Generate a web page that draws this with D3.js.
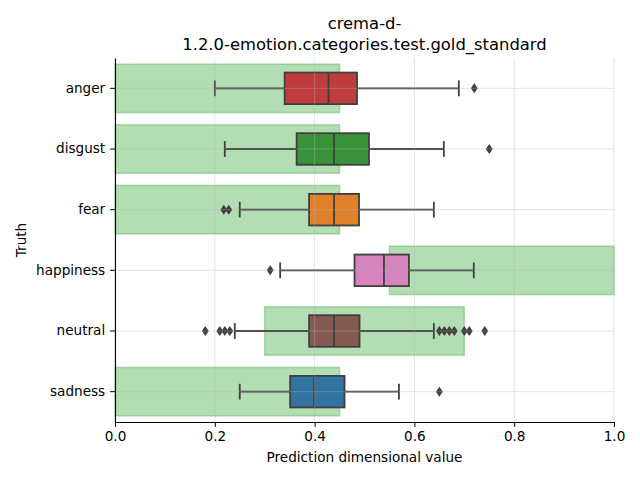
<!DOCTYPE html>
<html><head><meta charset="utf-8">
<script src="https://cdn.jsdelivr.net/npm/d3@7"></script>
<style>body{margin:0;background:#fff}svg{display:block;font-family:"DejaVu Sans",sans-serif}</style>
</head><body><svg id="c" width="640" height="480"></svg>
<script>
const categories = ["anger","disgust","fear","happiness","neutral","sadness"];
const boxColors = ["#c03d3e","#3a923a","#e1812c","#d684bd","#845b53","#3274a1"];
const whiskerLow  = [0.200,0.220,0.250,0.331,0.240,0.250];
const q1          = [0.340,0.364,0.389,0.480,0.389,0.351];
const median      = [0.428,0.439,0.439,0.539,0.439,0.399];
const q3          = [0.485,0.509,0.489,0.589,0.490,0.460];
const whiskerHigh = [0.689,0.659,0.639,0.719,0.639,0.569];
const outliers = [
  [0.720],
  [0.750],
  [0.218,0.228],
  [0.311],
  [0.181,0.210,0.220,0.230,0.650,0.660,0.670,0.680,0.700,0.710,0.741],
  [0.650]
];
const goldLow  = [0.0,0.0,0.0,0.55,0.3,0.0];
const goldHigh = [0.45,0.45,0.45,1.0,0.7,0.45];
const xTicks = [0.0,0.2,0.4,0.6,0.8,1.0];
const title = ["crema-d-","1.2.0-emotion.categories.test.gold_standard"];

const svg = d3.select("#c");
const L=115, R=614, T=58, B=422;
const x = d3.scaleLinear().domain([0,1]).range([L,R]);
const y = d3.scaleBand().domain(categories).range([T,B]);
const bw = y.bandwidth();
const cy = c => y(c)+bw/2;
const fs = "13.6px";

// gold standard rects
svg.append("g").selectAll("rect").data(categories).join("rect")
  .attr("x",(c,i)=>x(goldLow[i])).attr("width",(c,i)=>x(goldHigh[i])-x(goldLow[i]))
  .attr("y",c=>cy(c)-bw*0.4).attr("height",bw*0.8)
  .attr("fill","#2ca02c").attr("fill-opacity",0.36)
  .attr("stroke","#2ca02c").attr("stroke-opacity",0.32).attr("stroke-width",1.5);

const gray="#3f3f3f";
const bh = bw*0.52;
const lw = 1.8;
const g = svg.append("g");
categories.forEach((c,i)=>{
  const yc=cy(c);
  g.append("line").attr("x1",x(whiskerLow[i])).attr("x2",x(q1[i])).attr("y1",yc).attr("y2",yc).attr("stroke",gray).attr("stroke-width",lw);
  g.append("line").attr("x1",x(q3[i])).attr("x2",x(whiskerHigh[i])).attr("y1",yc).attr("y2",yc).attr("stroke",gray).attr("stroke-width",lw);
  [whiskerLow[i],whiskerHigh[i]].forEach(v=>{
    g.append("line").attr("x1",x(v)).attr("x2",x(v)).attr("y1",yc-bh/4).attr("y2",yc+bh/4).attr("stroke",gray).attr("stroke-width",lw);
  });
  g.append("rect").attr("x",x(q1[i])).attr("width",x(q3[i])-x(q1[i])).attr("y",yc-bh/2).attr("height",bh)
    .attr("fill",boxColors[i]).attr("stroke",gray).attr("stroke-width",lw);
  g.append("line").attr("x1",x(median[i])).attr("x2",x(median[i])).attr("y1",yc-bh/2).attr("y2",yc+bh/2).attr("stroke",gray).attr("stroke-width",lw);
  outliers[i].forEach(v=>{
    const px=x(v);
    g.append("path").attr("d",`M${px},${yc-5}L${px+3.4},${yc}L${px},${yc+5}L${px-3.4},${yc}Z`).attr("fill",gray);
  });
});

// grid on top
const grid = svg.append("g").attr("stroke","#b0b0b0").attr("stroke-opacity",0.45).attr("stroke-width",0.8);
xTicks.forEach(t=>grid.append("line").attr("x1",x(t)).attr("x2",x(t)).attr("y1",T).attr("y2",B));
categories.forEach(c=>grid.append("line").attr("x1",L).attr("x2",R).attr("y1",cy(c)).attr("y2",cy(c)));

// axes
const xa = svg.append("g").attr("transform",`translate(0,${B})`)
  .call(d3.axisBottom(x).tickValues(xTicks).tickFormat(d3.format(".1f")).tickSizeInner(4.9).tickSizeOuter(0).tickPadding(4.9));
const ya = svg.append("g").attr("transform",`translate(${L},0)`)
  .call(d3.axisLeft(y).tickSizeInner(4.9).tickSizeOuter(0).tickPadding(4.9));
[xa,ya].forEach(a=>{
  a.selectAll("text").attr("font-size",fs).attr("font-family","DejaVu Sans").attr("fill","#000");
  a.select(".domain").attr("stroke","#000").attr("stroke-width",1.1);
  a.selectAll(".tick line").attr("stroke","#000").attr("stroke-width",1);
});

svg.append("text").attr("x",(L+R)/2).attr("y",462).attr("text-anchor","middle").attr("font-size",fs).text("Prediction dimensional value");
svg.append("text").attr("transform",`translate(26,${(T+B)/2}) rotate(-90)`).attr("text-anchor","middle").attr("font-size",fs).text("Truth");
svg.append("text").attr("x",(L+R)/2).attr("y",29).attr("text-anchor","middle").attr("font-size","16.4px").text(title[0]);
svg.append("text").attr("x",(L+R)/2).attr("y",50).attr("text-anchor","middle").attr("font-size","16.4px").text(title[1]);
</script></body></html>
